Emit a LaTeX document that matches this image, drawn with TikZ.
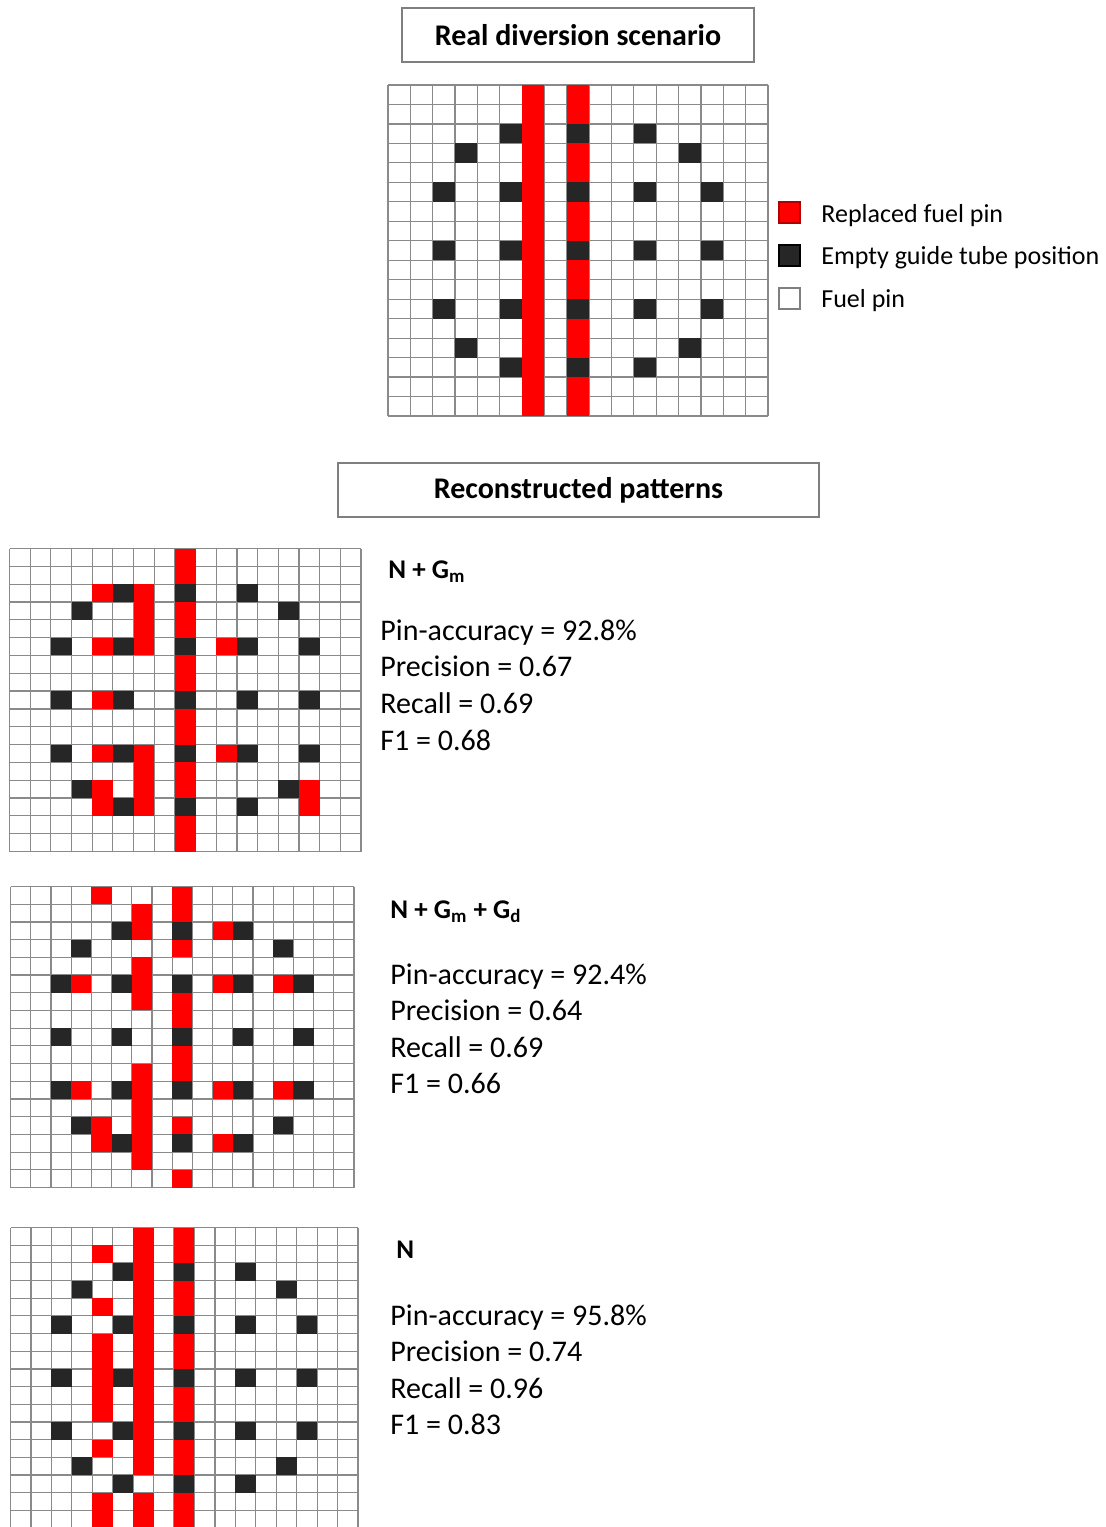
\documentclass[tikz,border=0pt]{standalone}
\usepackage{fontspec}
\setmainfont{Carlito}
\definecolor{pinred}{HTML}{FF0000}
\definecolor{pinblack}{HTML}{262626}
\definecolor{gridgray}{HTML}{8A8A8A}
\definecolor{boxgray}{HTML}{7F7F7F}
\tikzset{
  gridline/.style={draw=gridgray, line width=0.6pt},
  titlebox/.style={draw=boxgray, line width=1pt, minimum height=27pt, inner sep=0pt, font=\fontsize{15}{18}\selectfont\bfseries},
  legsq/.style={minimum size=10.5pt, inner sep=0pt, line width=0.6pt},
  legtext/.style={anchor=base west, inner sep=0pt, font=\fontsize{13}{15}\selectfont},
  stat/.style={anchor=base west, inner sep=0pt, font=\fontsize{15}{18}\selectfont},
  modlabel/.style={anchor=base west, inner sep=0pt, font=\fontsize{13.5}{16}\selectfont\bfseries},
}
\def\guides{5/2,8/2,11/2,3/3,13/3,2/5,5/5,8/5,11/5,14/5,2/8,5/8,8/8,11/8,14/8,2/11,5/11,8/11,11/11,14/11,3/13,13/13,5/14,8/14,11/14}
% #1,#2 top-left (px), #3,#4 bottom-right (px), #5 red spans col/rowfrom/rowto
\newcommand\pingrid[5]{%
  \pgfmathsetmacro\gcw{(#3-#1)/34}%
  \pgfmathsetmacro\gch{(#4-#2)/34}%
  \begin{scope}[shift={(#1,#2)}, x=\gcw pt, y=-\gch pt]
    \foreach \ii in {0,...,17} {
      \draw[gridline] (\ii,0) -- (\ii,17);
      \draw[gridline] (0,\ii) -- (17,\ii);
    }
    \foreach \cc/\ra/\rb in {#5} {
      \fill[pinred] (\cc,\ra) rectangle (\cc+1,\rb+1);
    }
    \foreach \cc/\rr in \guides {
      \fill[pinblack] (\cc,\rr) rectangle (\cc+1,\rr+1);
    }
  \end{scope}}
\begin{document}
\begin{tikzpicture}[x=0.5pt, y=-0.5pt]
\useasboundingbox (0,0) rectangle (1105,1527);
\fill[white] (0,0) rectangle (1105,1527);

% Titles
\node[titlebox, minimum width=176pt] (t1) at (578,35) {Real diversion scenario};
\node[titlebox, minimum width=240.5pt] (t2) at (578.5,490) {Reconstructed patterns};

% Real scenario grid
\pingrid{388}{85}{768}{416}{6/0/16, 8/0/16}

% Legend
\node[legsq, fill=pinred, draw=red!70!black] (l1) at (789.5,212.5) {};
\node[legsq, fill=pinblack, draw=black] (l2) at (789.5,255.5) {};
\node[legsq, fill=white, draw=boxgray] (l3) at (789.5,298.5) {};
\node[legtext] (lt1) at (821,222) {Replaced fuel pin};
\node[legtext] (lt2) at (821,264) {Empty guide tube position};
\node[legtext] (lt3) at (821,307) {Fuel pin};

% N + Gm
\pingrid{9.5}{548.5}{361}{851.5}{8/0/16, 4/2/2, 6/2/5, 4/5/5, 10/5/5, 4/8/8, 4/11/11, 6/11/14, 10/11/11, 4/13/14, 14/13/14}
\node[modlabel] (m1) at (388,578) {N + G\textsubscript{m}};
\node[stat] (s11) at (380,640) {Pin-accuracy = 92.8\%};
\node[stat] (s12) at (380,676) {Precision = 0.67};
\node[stat] (s13) at (380,713) {Recall = 0.69};
\node[stat] (s14) at (380,750) {F1 = 0.68};

% N + Gm + Gd
\pingrid{10.5}{886.5}{354}{1187.5}{8/0/1, 8/3/3, 8/6/7, 8/9/10, 8/13/13, 8/16/16, 4/0/0, 6/1/2, 6/4/6, 6/10/15, 10/2/2, 3/5/5, 10/5/5, 13/5/5, 3/11/11, 10/11/11, 13/11/11, 4/13/14, 10/14/14}
\node[modlabel] (m2) at (390,918) {N + G\textsubscript{m} + G\textsubscript{d}};
\node[stat] (s21) at (390,984) {Pin-accuracy = 92.4\%};
\node[stat] (s22) at (390,1020) {Precision = 0.64};
\node[stat] (s23) at (390,1057) {Recall = 0.69};
\node[stat] (s24) at (390,1093) {F1 = 0.66};

% N
\pingrid{10.5}{1227.5}{358}{1528}{8/0/16, 6/0/13, 6/15/16, 4/1/1, 4/4/4, 4/6/10, 4/12/12, 4/15/16}
\node[modlabel] (m3) at (396,1258) {N};
\node[stat] (s31) at (390,1325) {Pin-accuracy = 95.8\%};
\node[stat] (s32) at (390,1361) {Precision = 0.74};
\node[stat] (s33) at (390,1398) {Recall = 0.96};
\node[stat] (s34) at (390,1434) {F1 = 0.83};
\end{tikzpicture}
\end{document}
